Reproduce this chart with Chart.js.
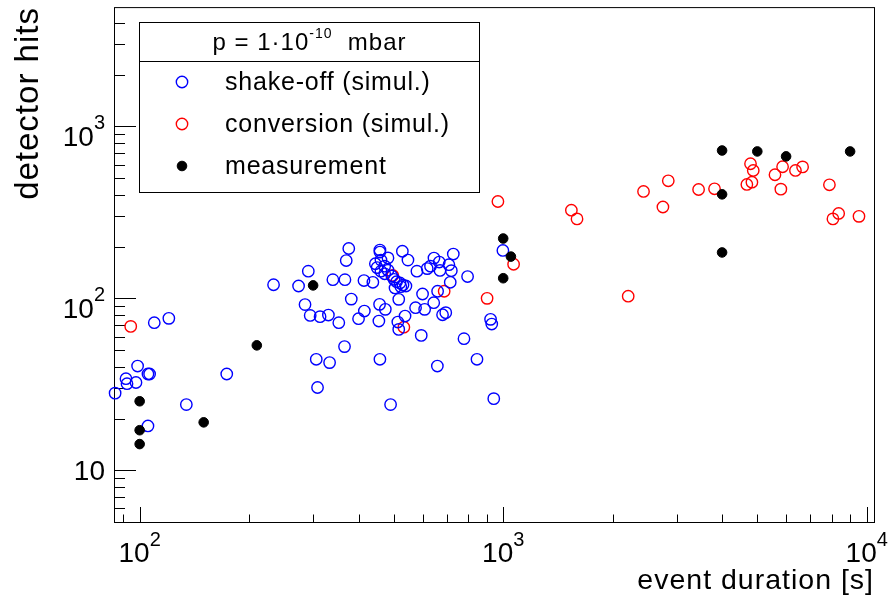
<!DOCTYPE html>
<html>
<head>
<meta charset="utf-8">
<script src="https://cdn.jsdelivr.net/npm/chart.js@4.4.1/dist/chart.umd.min.js"></script>
<style>
  html, body { margin: 0; padding: 0; background: #fff; }
  #wrap { width: 891px; height: 610px; }
</style>
</head>
<body>
<div id="wrap"><canvas id="c" width="891" height="610"></canvas></div>
<script>
const FONT = '"Liberation Sans", Arial, Helvetica, sans-serif';

// axis ranges and tick labels (log axes, ROOT style)
const xRange = [85, 10470];
const yRange = [5, 4950];
const xTicks = [100, 1000, 10000];
const xTickLabels = ['10^2', '10^3', '10^4'];
const yTicks = [10, 100, 1000];
const yTickLabels = ['10', '10^2', '10^3'];
const xTitle = 'event duration [s]';
const yTitle = 'detector hits';

const legendHeader = ['p = 1\u00b710', '-10', '  mbar'];
const seriesNames = ['shake-off (simul.)', 'conversion (simul.)', 'measurement'];

// [event duration s, detector hits]
const shakeOff = [
  [85.6, 28.1], [91.7, 34.1], [92.3, 31.9], [97.7, 32.4], [98.7, 40.4], [105.4, 36.3], [106.5, 36.3],
  [105.4, 18.1], [109.7, 72.2], [120.3, 76.5], [134.4, 24.1], [173.6, 36.3], [233.5, 120], [273.6, 118],
  [291, 144], [285, 92], [294.5, 79.6], [313.5, 78.3], [330.5, 80], [353, 72.2], [366, 52.4], [306, 44.2],
  [333, 42.3], [308.5, 30.3], [370, 166], [376, 195], [340, 128.5], [367, 128.5], [382, 99], [414, 127],
  [438, 124], [415, 84.4], [400, 76.2], [455, 73.8], [458, 44.2], [457, 92.3], [474, 86.3], [458, 191],
  [458, 186], [445, 159], [450, 151], [461, 167], [482, 172], [482, 146], [472, 154], [461, 144], [472, 139],
  [494, 135], [501, 129], [509, 125], [520, 123], [530, 119.5], [540, 118], [504, 115], [523, 117],
  [528, 188], [547, 167], [516, 98.7], [537, 78.9], [513, 72.8], [516, 66], [490, 24.1], [579, 144],
  [600, 106], [574, 88.3], [608, 86.3], [595, 60.9], [618, 149], [645, 171.5], [631, 154], [667, 162.6],
  [670, 145.5], [644, 94.4], [660, 110], [681, 80.3], [695, 82.6], [709, 157], [720, 145], [729, 181],
  [715, 124], [659, 40.4], [798, 134], [780, 58.3], [847, 44.2], [923, 75.5], [930, 70.9], [942, 26.1],
  [998, 190]
];
const conversion = [
  [94.5, 68.7], [497, 136], [533, 68], [688, 110], [903, 100], [967, 366], [1068, 158], [1540, 326],
  [1596, 290], [2207, 103], [2432, 419], [2845, 483], [2750, 340], [3447, 430], [3813, 434], [4680, 460],
  [4789, 607], [4873, 555], [4832, 474], [5592, 524], [5804, 432], [5868, 583], [6366, 555], [6661, 582],
  [7894, 458], [8072, 290], [8370, 312], [9520, 300]
];
const measurement = [
  [100, 25.2], [100, 17.1], [100, 14.2], [150, 19], [210, 53.3], [300, 119], [1000, 223], [1050, 175],
  [1000, 131], [4000, 725], [4000, 403], [4000, 185], [5000, 716], [6000, 670], [9000, 716]
];

const toPts = arr => arr.map(p => ({ x: p[0], y: p[1] }));

function logMinor(min, max) {
  const out = [];
  for (let d = Math.floor(Math.log10(min)); d <= Math.ceil(Math.log10(max)); d++) {
    for (let m = 1; m <= 9; m++) {
      const v = m * Math.pow(10, d);
      if (v >= min && v <= max) out.push({ v, major: m === 1 });
    }
  }
  return out;
}

// frame and inward ticks, like ROOT
const framePlugin = {
  id: 'frame',
  beforeDraw(chart) { chart.ctx.letterSpacing = '1px'; },
  beforeDatasetsDraw(chart) {
    const { ctx, chartArea: a, scales: { x, y } } = chart;
    ctx.save();
    ctx.strokeStyle = '#000';
    ctx.lineWidth = 1;
    ctx.strokeRect(a.left + 0.5, a.top + 0.5, a.right - a.left, a.bottom - a.top);
    ctx.beginPath();
    logMinor(x.min, x.max).forEach(t => {
      const px = Math.round(x.getPixelForValue(t.v)) + 0.5;
      ctx.moveTo(px, a.bottom);
      ctx.lineTo(px, a.bottom - (t.major ? 15 : 7.5));
    });
    logMinor(y.min, y.max).forEach(t => {
      const py = Math.round(y.getPixelForValue(t.v)) + 0.5;
      ctx.moveTo(a.left, py);
      ctx.lineTo(a.left + (t.major ? 22 : 11), py);
    });
    ctx.stroke();
    ctx.restore();
  },
  afterDraw(chart) {
    const { ctx, scales: { x, y } } = chart;
    ctx.save();
    ctx.letterSpacing = '0px';
    ctx.fillStyle = '#000';
    ctx.textBaseline = 'alphabetic';
    const baseFont = '28px ' + FONT, supFont = '20px ' + FONT;
    // x tick labels
    xTicks.forEach((v, i) => {
      const [b, e] = xTickLabels[i].split('^');
      ctx.font = baseFont; const bw = ctx.measureText(b).width;
      ctx.font = supFont; const sw = e ? ctx.measureText(e).width : 0;
      const left = x.getPixelForValue(v) - (bw + sw) / 2;
      ctx.textAlign = 'left';
      ctx.font = baseFont; ctx.fillText(b, left, 562);
      if (e) { ctx.font = supFont; ctx.fillText(e, left + bw, 546); }
    });
    // y tick labels
    yTicks.forEach((v, i) => {
      const [b, e] = yTickLabels[i].split('^');
      const py = y.getPixelForValue(v);
      const right = 105;
      ctx.textAlign = 'right';
      if (e) {
        ctx.font = supFont; const sw = ctx.measureText(e).width;
        ctx.fillText(e, right, py + 3);
        ctx.font = baseFont; ctx.fillText(b, right - sw, py + 20);
      } else {
        ctx.font = baseFont; ctx.fillText(b, right, py + 10);
      }
    });
    ctx.restore();
  }
};

// legend box with header
const legendPlugin = {
  id: 'rootLegend',
  afterDraw(chart) {
    const ctx = chart.ctx;
    const L = 139.5, T = 22.5, W = 340, H = 170;
    ctx.save();
    ctx.fillStyle = '#fff';
    ctx.fillRect(L, T, W, H);
    ctx.strokeStyle = '#000';
    ctx.lineWidth = 1;
    ctx.strokeRect(L, T, W, H);
    ctx.beginPath();
    ctx.moveTo(L, 61.5); ctx.lineTo(L + W, 61.5);
    ctx.stroke();

    ctx.fillStyle = '#000';
    ctx.textAlign = 'left';
    ctx.textBaseline = 'alphabetic';
    ctx.letterSpacing = '1px';
    const hf = '24px ' + FONT, sf = '14px ' + FONT;
    ctx.font = hf; const w0 = ctx.measureText(legendHeader[0]).width;
    ctx.font = sf; const w1 = ctx.measureText(legendHeader[1]).width;
    ctx.font = hf; const w2 = ctx.measureText(legendHeader[2]).width;
    let hx = L + W / 2 - (w0 + w1 + w2) / 2;
    ctx.font = hf; ctx.fillText(legendHeader[0], hx, 50);
    ctx.font = sf; ctx.fillText(legendHeader[1], hx + w0, 38);
    ctx.font = hf; ctx.fillText(legendHeader[2], hx + w0 + w1, 50);

    ctx.letterSpacing = '0.8px';
    ctx.font = '25px ' + FONT;
    const ds = chart.data.datasets;
    seriesNames.forEach((name, i) => {
      const base = 90 + 42 * i;
      const d = ds[i];
      ctx.beginPath();
      ctx.arc(182, base - 8, d.pointRadius, 0, Math.PI * 2);
      if (d.pointBackgroundColor !== 'rgba(0,0,0,0)') { ctx.fillStyle = d.pointBackgroundColor; ctx.fill(); }
      ctx.strokeStyle = d.pointBorderColor; ctx.lineWidth = d.pointBorderWidth; ctx.stroke();
      ctx.fillStyle = '#000';
      ctx.fillText(name, 225, base);
    });
    ctx.restore();
  }
};

const openCircle = color => ({
  pointRadius: 5.7, pointBorderWidth: 1.4, pointBorderColor: color,
  pointBackgroundColor: 'rgba(0,0,0,0)', borderColor: color, backgroundColor: 'rgba(0,0,0,0)', clip: false
});

new Chart(document.getElementById('c'), {
  type: 'scatter',
  data: {
    datasets: [
      Object.assign({ label: seriesNames[0], data: toPts(shakeOff), order: 2 }, openCircle('#0000ff')),
      Object.assign({ label: seriesNames[1], data: toPts(conversion), order: 3 }, openCircle('#ff0000')),
      { label: seriesNames[2], data: toPts(measurement), order: 1, pointRadius: 4.8, pointBorderWidth: 1,
        pointBorderColor: '#000', pointBackgroundColor: '#000', borderColor: '#000', backgroundColor: '#000', clip: false }
    ]
  },
  options: {
    responsive: false,
    animation: false,
    devicePixelRatio: 1,
    events: [],
    layout: { padding: { top: 7, right: 17, left: 0, bottom: 0 } },
    plugins: { legend: { display: false }, tooltip: { enabled: false } },
    scales: {
      x: {
        type: 'logarithmic', position: 'bottom', min: xRange[0], max: xRange[1],
        grid: { display: false, drawTicks: false }, border: { display: false },
        ticks: { display: false },
        afterBuildTicks: s => { s.ticks = xTicks.map(v => ({ value: v })); },
        afterFit: s => { s.height = 88; s.paddingLeft = 0; s.paddingRight = 0; },
        title: { display: true, text: xTitle, align: 'end', color: '#000',
                 font: { family: FONT, size: 28.5 }, padding: { top: 0, bottom: 12 } }
      },
      y: {
        type: 'logarithmic', position: 'left', min: yRange[0], max: yRange[1],
        grid: { display: false, drawTicks: false }, border: { display: false },
        ticks: { display: false },
        afterBuildTicks: s => { s.ticks = yTicks.map(v => ({ value: v })); },
        afterFit: s => { s.width = 114; s.paddingTop = 0; s.paddingBottom = 0; },
        title: { display: true, text: yTitle, align: 'end', color: '#000',
                 font: { family: FONT, size: 33 }, padding: { top: 9, bottom: 0 } }
      }
    }
  },
  plugins: [framePlugin, legendPlugin]
});
</script>
</body>
</html>
